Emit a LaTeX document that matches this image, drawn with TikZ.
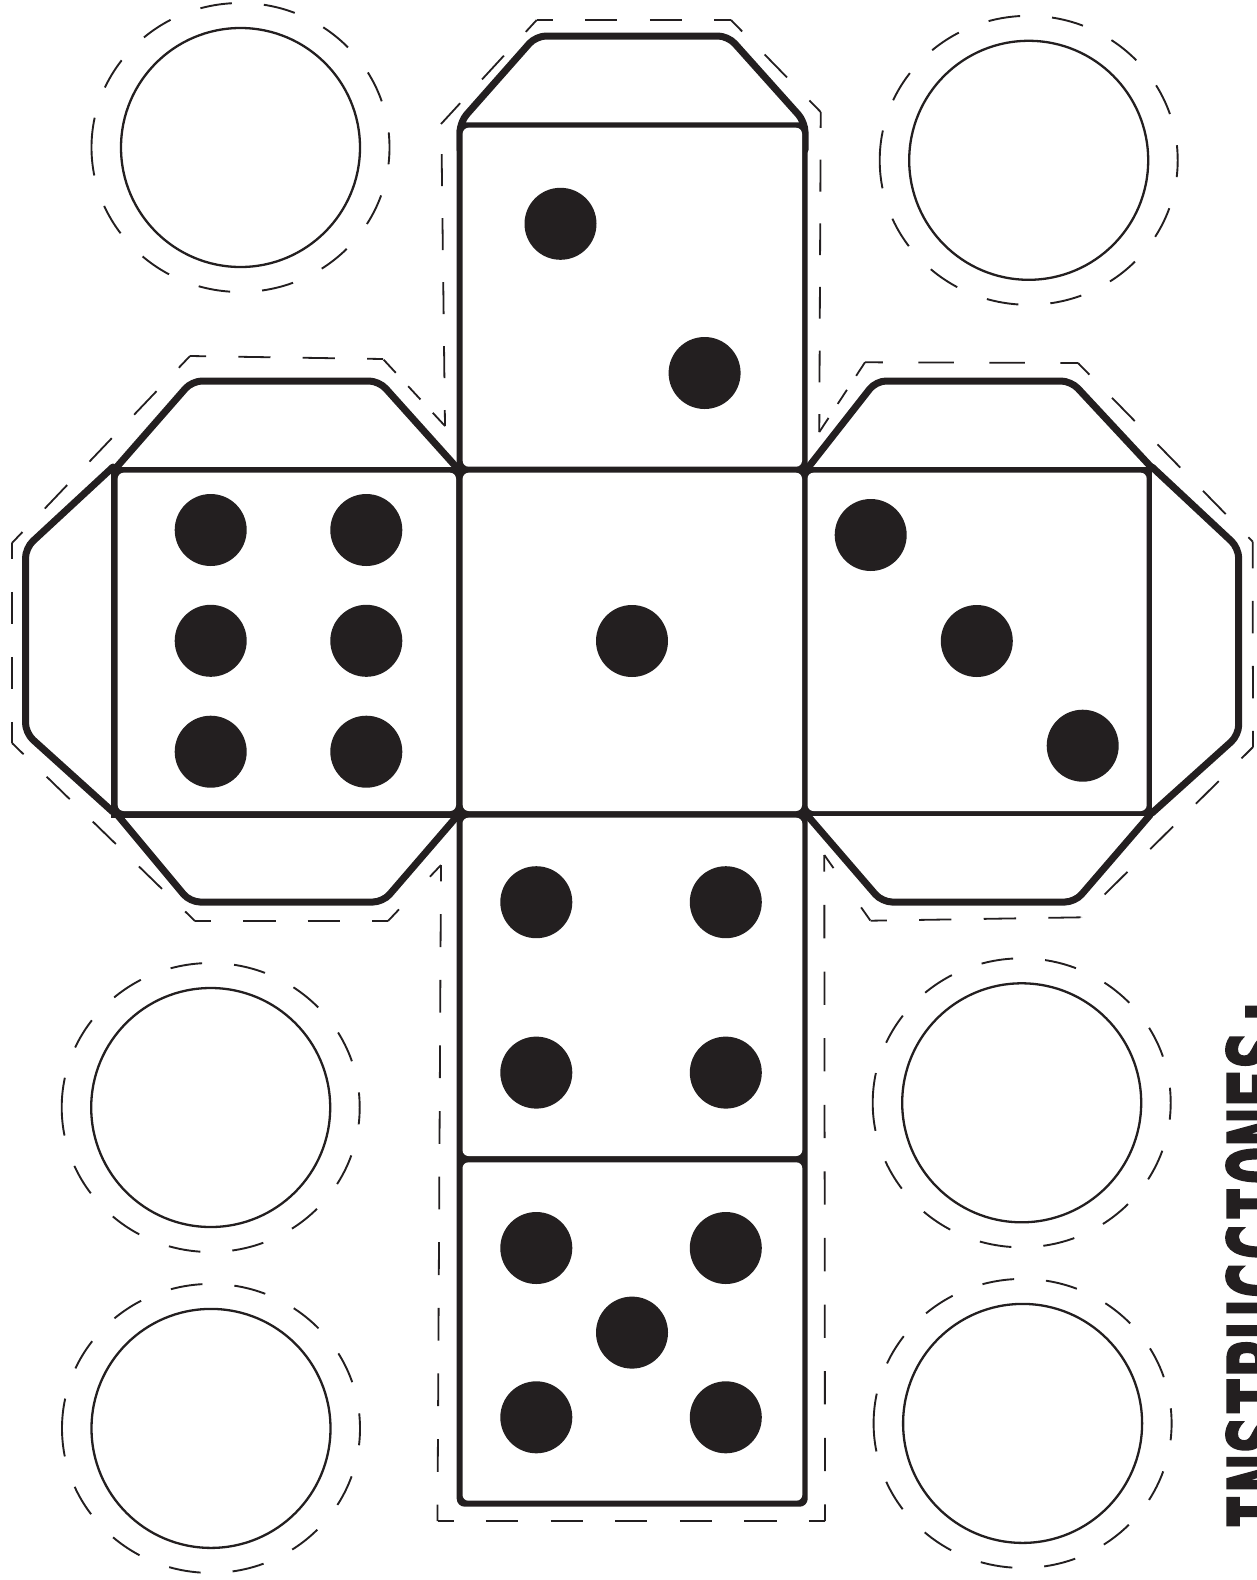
\documentclass[tikz,border=0pt]{standalone}
\usepackage{xcolor}
\usepackage{fontspec}
\newfontfamily\labelfont[FakeBold=2.5]{DejaVu Sans Mono Bold}
\definecolor{ink}{HTML}{231F20}

\begin{document}
\begin{tikzpicture}[
    x=1pt, y=-1pt,
    flap/.style={draw=ink, fill=white, line width=7pt, rounded corners=10pt, line cap=round},
    frame/.style={fill=ink, rounded corners=8pt},
    face/.style={fill=white, rounded corners=6pt},
    pip/.style={fill=ink},
    ring/.style={draw=ink, line width=2.3pt},
    ringcut/.style={draw=ink, line width=1.9pt, dash pattern=on 32pt off 32pt, dash phase=2pt},
    cut/.style={draw=ink, line width=1.8pt, dash pattern=on #1pt off #1pt, dash phase=0.5*#1pt},
    nick/.style 2 args={draw=ink, line width=1.8pt, dash pattern=on #1pt off #2pt}
]
\useasboundingbox (0,0) rectangle (1257,1580);

% flaps
\draw[flap] (460,150) -- (460,122) -- (536,36) -- (728,36) -- (805,122) -- (805,150);
\draw[flap] (115,469) -- (192,381) -- (379,381) -- (458,469);
\draw[flap] (807,469) -- (876,381) -- (1071,381) -- (1152,468);
\draw[flap] (113,467) -- (25.5,548) -- (25.5,733) -- (113,812);
\draw[flap] (1152,467) -- (1238.7,548) -- (1238.7,735) -- (1152,813);
\draw[flap] (115,812) -- (190,902) -- (383,902) -- (458,815);
\draw[flap] (807,815) -- (882,902) -- (1075,902) -- (1150,815);

% cross behind the faces
\fill[frame] (456.7,122.3) rectangle (807.7,1506.7);
\fill[frame, rounded corners=0pt] (111,466.7) rectangle (807,817.7);
\fill[frame, rounded corners=0pt] (802,466.7) rectangle (1152,815.7);

% faces
\fill[face] (462.7,127.7) rectangle (802,466.7);
\fill[face] (117.7,472.7) rectangle (456,811);
\fill[face] (462.7,472.7) rectangle (802,811);
\fill[face] (807.5,472.7) rectangle (1146.7,811);
\fill[face] (462.5,817.7) rectangle (802.3,1156);
\fill[face] (462.5,1162.3) rectangle (802.3,1500.7);

% pips
\foreach \x/\y in {560.5/223.8, 704.6/373,
    210.7/530, 366.3/530, 210.7/640.8, 366.3/640.8, 210.7/751.7, 366.3/751.7,
    632/641,
    870.7/535, 976.8/641, 1082.7/745.7,
    536.3/902.2, 725.8/902.2, 536.3/1072.6, 725.8/1072.6,
    536.3/1248, 725.8/1248, 632/1332.6, 536.3/1417.3, 725.8/1417.3}
    \fill[pip] (\x,\y) circle (36);

% cutting line
\foreach \len/\ax/\ay/\bx/\by in {32.3/536.7/20/731/20, 32.1/731/20/820.7/112, 32.3/536.7/20/441/124,
    32/445/426/441.3/124, 31.8/820.7/112/819.3/432, 35.5/865/362.3/1078/363,
    32.5/1078/363/1252.7/541.7, 32.5/1253/747/1252.7/541.7, 32.2/1253/747/1081.7/917.3,
    32.3/870.7/920.7/1081.7/917.3, 32.2/190/356/383/359, 32.4/190/356/12/543,
    32.5/12/543/12/743, 32.2/12/743/195/921, 32.2/195/921/388/921,
    32.8/437.5/1521/441/865, 32.3/437.5/1521/825/1521, 33.3/825/1521/824.3/855}
    \draw[cut=\len] (\ax,\ay) -- (\bx,\by);
\draw[nick={16.8}{16.8}] (819.3,432) -- (865,362.3);
\draw[nick={18}{18.2}] (445,426) -- (383,359);
\draw[nick={16}{48}] (824.3,855) -- (870.7,921);
\draw[nick={16}{45}] (388,921) -- (441,865);

% counters
\foreach \x/\y in {240.5/147.5, 1028.7/160.3, 210.7/1107.5, 211/1428.4, 1021.7/1102.8, 1022.6/1423.4} {
    \draw[ring] (\x,\y) circle (119.5);
    \draw[ringcut] (\x-149,\y) arc[start angle=180, end angle=540, x radius=149, y radius=144.5];
}

\node[anchor=base west, rotate=90, xscale=0.71, inner sep=0pt, text=ink,
    font=\labelfont\fontsize{90}{90}\selectfont] (title) at (1293,1531) {INSTRUCCIONES:};

\end{tikzpicture}
\end{document}
